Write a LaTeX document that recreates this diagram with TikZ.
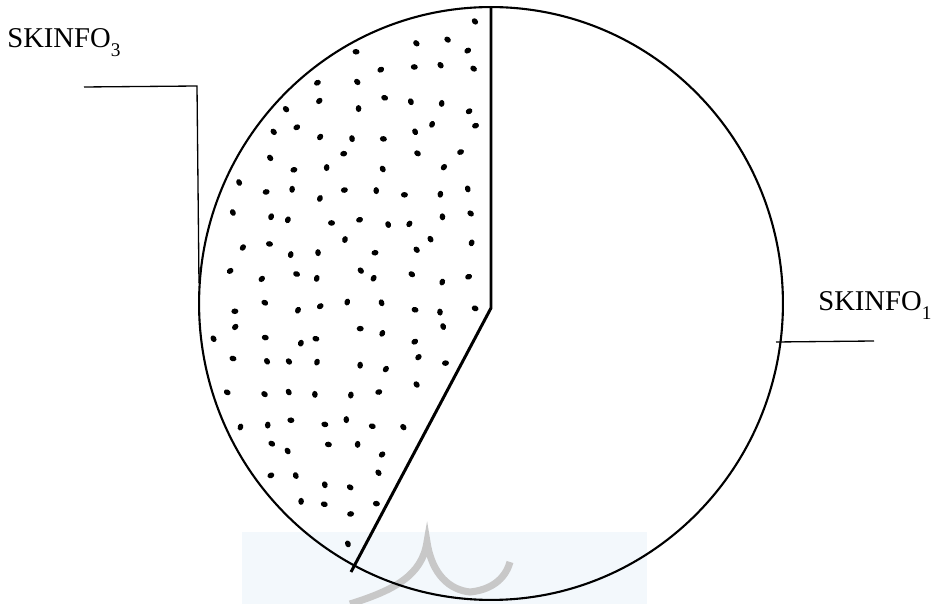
\documentclass[tikz,border=0pt]{standalone}
\usepackage{fontspec}
\setmainfont{Liberation Serif}
\usetikzlibrary{calc}
\definecolor{wmblue}{RGB}{243,248,252}
\definecolor{wmgray}{RGB}{200,200,200}
\newcommand{\lblsub}[1]{\raisebox{-5pt}{\fontsize{11}{11}\selectfont #1}}
\tikzset{
  lbl/.style={font=\fontsize{16.3}{19}\selectfont, inner sep=0pt, anchor=base west},
  rimline/.style={line width=1.2pt},
  pieline/.style={line width=1.7pt},
  leader/.style={line width=0.75pt},
  speck/.style={fill=black}
}

\begin{document}
\begin{tikzpicture}[x=0.02cm,y=-0.02cm]
        \def\cx{491}
        \def\cy{303.5}
        \useasboundingbox (0,0) rectangle (938,604);
        \coordinate (ctr) at (\cx,\cy);
        \coordinate (top) at (491,7);
        \coordinate (hub) at (491,308);
        \coordinate (rim) at (351,572);
        \coordinate (l3a) at (84,87);
        \coordinate (l3b) at (197,86);
        \coordinate (l3c) at (199,283);
        \coordinate (l1a) at (776,342);
        \coordinate (l1b) at (874,341);
        %Watermark
        \fill[wmblue] (242,532) rectangle (647,604);
        \draw[wmgray, line width=4pt] (350,604) .. controls (395,590) and (422,575) .. (427,542)
          .. controls (432,575) and (450,590) .. (470,592)
          .. controls (490,590) and (505,580) .. (510,562);
        %Dots
        \pgfmathsetseed{5}
        \foreach \i in {0,...,10}
          \foreach \j in {0,...,20}{
            \pgfmathsetmacro{\px}{207+29*\i+9*rand}
            \pgfmathsetmacro{\py}{16+29*\j+9*rand}
            \pgfmathsetmacro{\rt}{180*rnd}
            \pgfmathtruncatemacro{\ok}{(((\px-\cx)/283)^2+((\py-\cy)/288)^2<1) && (\px<485) && (0.8835*(\px-491)+0.4685*(\py-308)<-8)}
            \ifnum\ok=1
              \fill[speck, rotate around={\rt:(\px,\py)}] (\px,\py) ellipse (2pt and 1.6pt);
            \fi
          }
        %Draw lines
        \draw[rimline] (ctr) ellipse (5.84cm and 5.93cm);
        \draw[pieline] (top) -- (hub) -- (rim);
        \draw[leader] (l3a) -- (l3b) -- (l3c);
        \draw[leader] (l1a) -- (l1b);
        %Draw labels
        \node[lbl] (skinfoC) at (7,48) {SKINFO\lblsub{3}};
        \node[lbl] (skinfoA) at (818,311) {SKINFO\lblsub{1}};
\end{tikzpicture}
\end{document}
